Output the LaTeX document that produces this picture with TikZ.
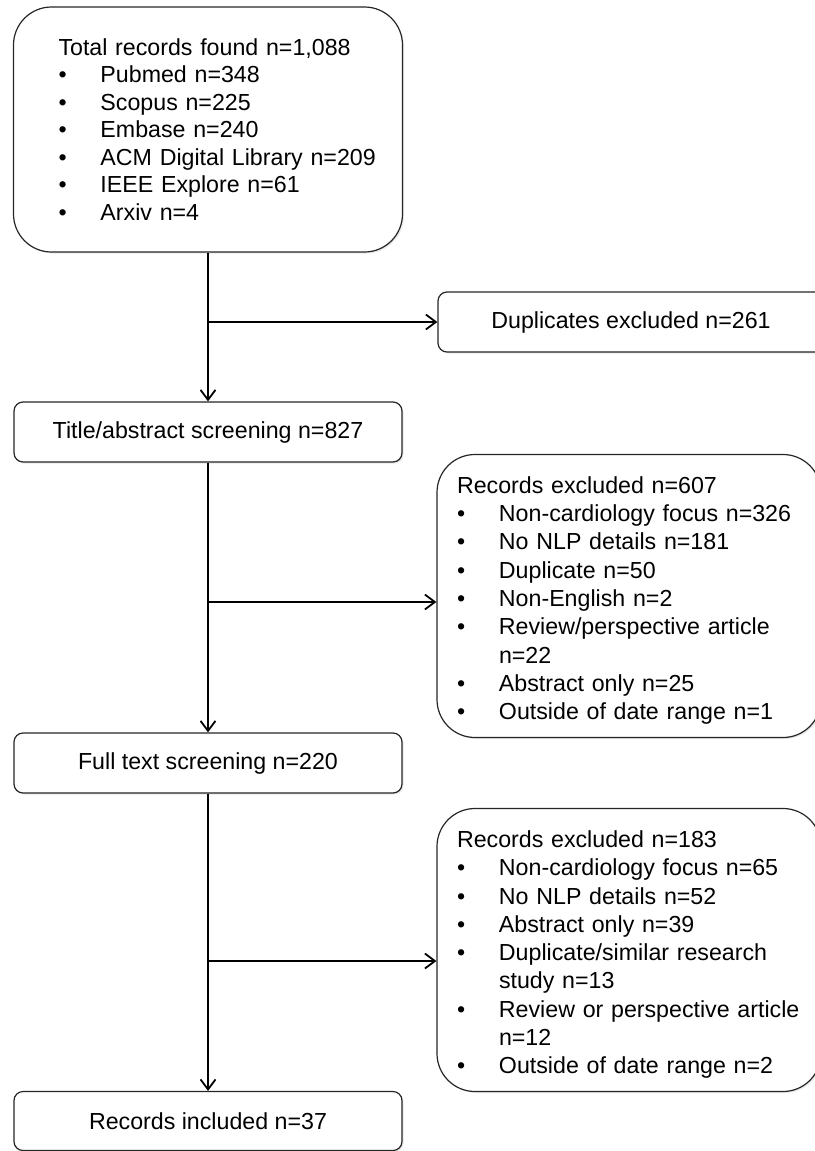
\documentclass[tikz,border=0pt]{standalone}
\usepackage{fontspec}
\setmainfont{Liberation Sans}
\usetikzlibrary{arrows.meta,shadows}
\newcommand\bitem[1]{\makebox[42pt][l]{\textbullet}\mbox{#1}}
\newcommand\bind{\hspace*{42pt}}
\begin{document}
\begin{tikzpicture}[x=1pt,y=-1pt,
  font=\fontsize{23.2pt}{27.5pt}\selectfont,
  box/.style={draw=black!85, line width=1.2pt, fill=white, rounded corners=9pt,
    drop shadow={shadow xshift=1.5pt, shadow yshift=-1.5pt, opacity=0.18}},
  smallbox/.style={box, minimum width=388pt, minimum height=60pt, inner sep=0pt},
  bigbox/.style={box, rounded corners=38pt, align=left},
  exbox/.style={bigbox, text width=344pt, inner xsep=20pt, minimum height=283pt,
    font=\fontsize{23.2pt}{28.3pt}\selectfont},
  arr/.style={line width=1.8pt, -{Straight Barb[length=10pt,width=15pt,line width=1.8pt]}}]
\useasboundingbox (0,0) rectangle (814,1151);

\node[bigbox, text width=299pt, inner xsep=45pt, minimum height=245pt] (top) at (208,129.5)
 {Total records found n=1,088\\
  \bitem{Pubmed n=348}\\
  \bitem{Scopus n=225}\\
  \bitem{Embase n=240}\\
  \bitem{ACM Digital Library n=209}\\
  \bitem{IEEE Explore n=61}\\
  \bitem{Arxiv n=4}};

\node[smallbox, minimum width=386pt] (dup) at (631,322) {Duplicates excluded n=261};

\node[smallbox] (title) at (208,432) {Title/abstract screening n=827};

\node[exbox] (ex1) at (629,596)
 {\rule{0pt}{26pt}Records excluded n=607\\
  \bitem{Non-cardiology focus n=326}\\
  \bitem{No NLP details n=181}\\
  \bitem{Duplicate n=50}\\
  \bitem{Non-English n=2}\\
  \bitem{Review/perspective article}\\
  \bind n=22\\
  \bitem{Abstract only n=25}\\
  \bitem{Outside of date range n=1}};

\node[smallbox] (full) at (208,763) {Full text screening n=220};

\node[exbox] (ex2) at (629,950)
 {\rule{0pt}{26pt}Records excluded n=183\\
  \bitem{Non-cardiology focus n=65}\\
  \bitem{No NLP details n=52}\\
  \bitem{Abstract only n=39}\\
  \bitem{Duplicate/similar research}\\
  \bind study n=13\\
  \bitem{Review or perspective article}\\
  \bind n=12\\
  \bitem{Outside of date range n=2}};

\node[smallbox, minimum height=59pt] (inc) at (208,1121) {Records included n=37};

\coordinate (b1) at (208,322);
\coordinate (b2) at (208,602);
\coordinate (b3) at (208,961);

\draw[arr] (top.south) -- (title.north);
\draw[arr] (b1) -- (dup.west);
\draw[arr] (title.south) -- (full.north);
\draw[arr] (b2) -- (b2 -| ex1.west);
\draw[arr] (full.south) -- (inc.north);
\draw[arr] (b3) -- (b3 -| ex2.west);
\end{tikzpicture}
\end{document}
